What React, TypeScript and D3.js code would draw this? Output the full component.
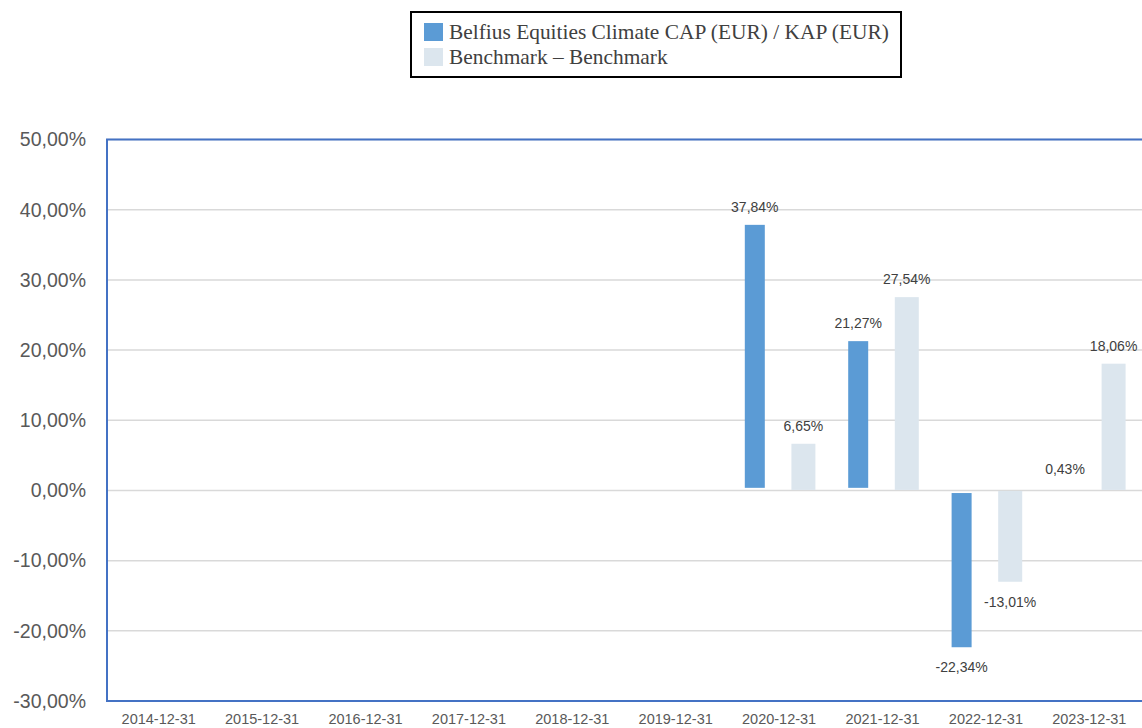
import * as d3 from 'd3';

const categories = [
    '2014-12-31', '2015-12-31', '2016-12-31', '2017-12-31', '2018-12-31',
    '2019-12-31', '2020-12-31', '2021-12-31', '2022-12-31', '2023-12-31',
];
const fundValues: (number | null)[] = [null, null, null, null, null, null, 37.84, 21.27, -22.34, 0.43];
const benchValues: (number | null)[] = [null, null, null, null, null, null, 6.65, 27.54, -13.01, 18.06];
const yTicks = [50, 40, 30, 20, 10, 0, -10, -20, -30];
const seriesNames = ['Belfius Equities Climate CAP (EUR) / KAP (EUR)', 'Benchmark \u2013 Benchmark'];

const width = 1142;
const height = 728;
const margins = { top: 139.5, bottom: 27, left: 107, right: 1 };

const colors = ['#5b9bd5', '#dce6ee'];
const barWidths = [20, 24];
// fund bars stop a little short of the zero line, like in the source
const baseGap = [2.6, 0.5];

const fmt = (v: number) => v.toFixed(2).replace('.', ',') + '%';

export default function App() {
    const yScale = d3
        .scaleLinear()
        .domain([-30, 50])
        .range([height - margins.bottom, margins.top]);

    const xScale = d3
        .scaleBand()
        .domain(categories)
        .range([margins.left, width - margins.right])
        .padding(0);

    // two bars per year, fund on the left and benchmark on the right
    const inner = d3
        .scalePoint()
        .domain(['fund', 'bench'])
        .range([0, xScale.bandwidth()])
        .padding(0.564);

    const series = [
        { key: 'fund', values: fundValues },
        { key: 'bench', values: benchValues },
    ];

    const plotRight = width;

    return (
        <svg
            width={width}
            height={height}
            viewBox={`0 0 ${width} ${height}`}
            style={{ position: 'absolute', left: 0, top: 0, background: '#fff' }}
        >
            {/* gridlines */}
            {yTicks.map((t) => (
                <line
                    key={'g' + t}
                    x1={margins.left}
                    x2={plotRight}
                    y1={yScale(t)}
                    y2={yScale(t)}
                    stroke='#d9d9d9'
                    strokeWidth={1.5}
                />
            ))}

            {/* y tick labels */}
            {yTicks.map((t) => (
                <text
                    key={'y' + t}
                    x={86}
                    y={yScale(t)}
                    dy='0.35em'
                    textAnchor='end'
                    fontFamily='Liberation Sans, Arial, sans-serif'
                    fontSize={19.5}
                    fill='#595959'
                >
                    {fmt(t)}
                </text>
            ))}

            {/* bars */}
            {series.map((s, si) =>
                s.values.map((v, i) => {
                    if (v === null) return null;
                    const cx = (xScale(categories[i]) as number) + (inner(s.key) as number);
                    const w = barWidths[si];
                    const y0 = yScale(0);
                    const y1 = yScale(v);
                    const h = Math.abs(y1 - y0) - baseGap[si];
                    if (h <= 0.6) return null;
                    return (
                        <rect
                            key={s.key + i}
                            x={cx - w / 2}
                            y={v >= 0 ? y1 : y0 + baseGap[si]}
                            width={w}
                            height={h}
                            fill={colors[si]}
                        />
                    );
                })
            )}

            {/* value labels */}
            {series.map((s, si) =>
                s.values.map((v, i) => {
                    if (v === null) return null;
                    const cx = (xScale(categories[i]) as number) + (inner(s.key) as number);
                    const y = v >= 0 ? yScale(v) - 13 : yScale(v) + 25;
                    return (
                        <text
                            key={'l' + s.key + i}
                            x={cx}
                            y={y}
                            textAnchor='middle'
                            fontFamily='Liberation Sans, Arial, sans-serif'
                            fontSize={14}
                            fill='#404040'
                        >
                            {fmt(v)}
                        </text>
                    );
                })
            )}

            {/* frame */}
            <line x1={margins.left} x2={margins.left} y1={yScale(50)} y2={yScale(-30)} stroke='#4472c4' strokeWidth={2} />
            <line x1={margins.left - 1} x2={plotRight} y1={yScale(50)} y2={yScale(50)} stroke='#4472c4' strokeWidth={2} />
            <line x1={margins.left - 1} x2={plotRight} y1={yScale(-30)} y2={yScale(-30)} stroke='#4472c4' strokeWidth={2} />

            {/* x labels */}
            {categories.map((c) => (
                <text
                    key={c}
                    x={(xScale(c) as number) + xScale.bandwidth() / 2}
                    y={723.5}
                    textAnchor='middle'
                    fontFamily='Liberation Sans, Arial, sans-serif'
                    fontSize={14.5}
                    fill='#595959'
                >
                    {c}
                </text>
            ))}

            {/* legend */}
            <rect x={411} y={12} width={490} height={65} fill='#fff' stroke='#000' strokeWidth={2} />
            {seriesNames.map((name, i) => (
                <g key={name} transform={`translate(424, ${23 + i * 25})`}>
                    <rect width={19} height={18} fill={colors[i]} />
                    <text
                        x={25}
                        y={15.5}
                        fontFamily='Liberation Serif, Times New Roman, serif'
                        fontSize={21.4}
                        fill='#404040'
                    >
                        {name}
                    </text>
                </g>
            ))}
        </svg>
    );
}
